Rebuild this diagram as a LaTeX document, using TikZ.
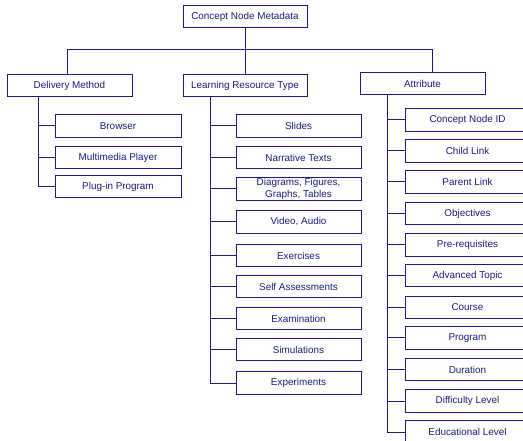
\documentclass[tikz,border=0pt]{standalone}
\usepackage{fontspec}
\setmainfont{Liberation Sans}
\definecolor{navy}{RGB}{28,28,125}
\begin{document}
\begin{tikzpicture}[x=1pt,y=-1pt,
  box/.style={draw=navy, line width=1pt, fill=white, text=navy,
    minimum width=125pt, minimum height=22.5pt, inner sep=0pt,
    align=center, font=\fontsize{9.9}{11.5}\selectfont},
  link/.style={draw=navy, line width=1pt}]
\useasboundingbox (0,0) rectangle (523,441);
\clip (0,0) rectangle (523,441);

% root and the three branches
\node[box, minimum width=124pt, minimum height=22pt] (root) at (245,17) {Concept Node Metadata};
\node[box, minimum height=22pt] (dm)  at (69.5,86) {Delivery Method};
\node[box, minimum width=124pt, minimum height=22pt] (lrt) at (245,86) {Learning Resource Type};
\node[box, minimum height=22pt] (att) at (422.5,84) {Attribute};

\coordinate (bar) at (245,50);
\draw[link] (root.south) -- (bar);
\draw[link] (bar) -| ([xshift=-2.5pt]dm.north);
\draw[link] (bar) -- (lrt.north);
\draw[link] (bar) -| ([xshift=9.5pt]att.north);

% delivery method
\node[box, minimum width=126pt] (d1) at (118,126)   {Browser};
\node[box, minimum width=126pt] (d2) at (118,157.5) {Multimedia Player};
\node[box, minimum width=126pt] (d3) at (118,186.5) {Plug-in Program};
\coordinate (dmv) at ([xshift=-31.5pt]dm.south);
\foreach \n in {d1,d2,d3} \draw[link] (dmv) |- (\n.west);

% learning resource type
\node[box] (l1) at (298.5,126)   {Slides};
\node[box] (l2) at (298.5,157.5) {Narrative Texts};
\node[box] (l3) at (298.5,189)   {Diagrams, Figures,\\Graphs, Tables};
\node[box] (l4) at (298.5,222)   {Video, Audio};
\node[box] (l5) at (298.5,255.5) {Exercises};
\node[box] (l6) at (298.5,286.5) {Self Assessments};
\node[box] (l7) at (298.5,318.5) {Examination};
\node[box] (l8) at (298.5,349.5) {Simulations};
\node[box] (l9) at (298.5,383)   {Experiments};
\coordinate (lrtv) at ([xshift=-35pt]lrt.south);
\foreach \n in {l1,l2,l3,l4,l5,l6,l7,l8,l9} \draw[link] (lrtv) |- (\n.west);

% attribute
\node[box] (a1)  at (467.5,120)   {Concept Node ID};
\node[box] (a2)  at (467.5,151)   {Child Link};
\node[box] (a3)  at (467.5,182)   {Parent Link};
\node[box] (a4)  at (467.5,213.5) {Objectives};
\node[box] (a5)  at (467.5,245)   {Pre-requisites};
\node[box] (a6)  at (467.5,275.5) {Advanced Topic};
\node[box] (a7)  at (467.5,307.5) {Course};
\node[box] (a8)  at (467.5,338)   {Program};
\node[box] (a9)  at (467.5,369.5) {Duration};
\node[box] (a10) at (467.5,401)   {Difficulty Level};
\node[box] (a11) at (467.5,432)   {Educational Level};
\coordinate (attv) at ([xshift=-35.5pt]att.south);
\foreach \n in {a1,a2,a3,a4,a5,a6,a7,a8,a9,a10,a11} \draw[link] (attv) |- (\n.west);
\end{tikzpicture}
\end{document}
